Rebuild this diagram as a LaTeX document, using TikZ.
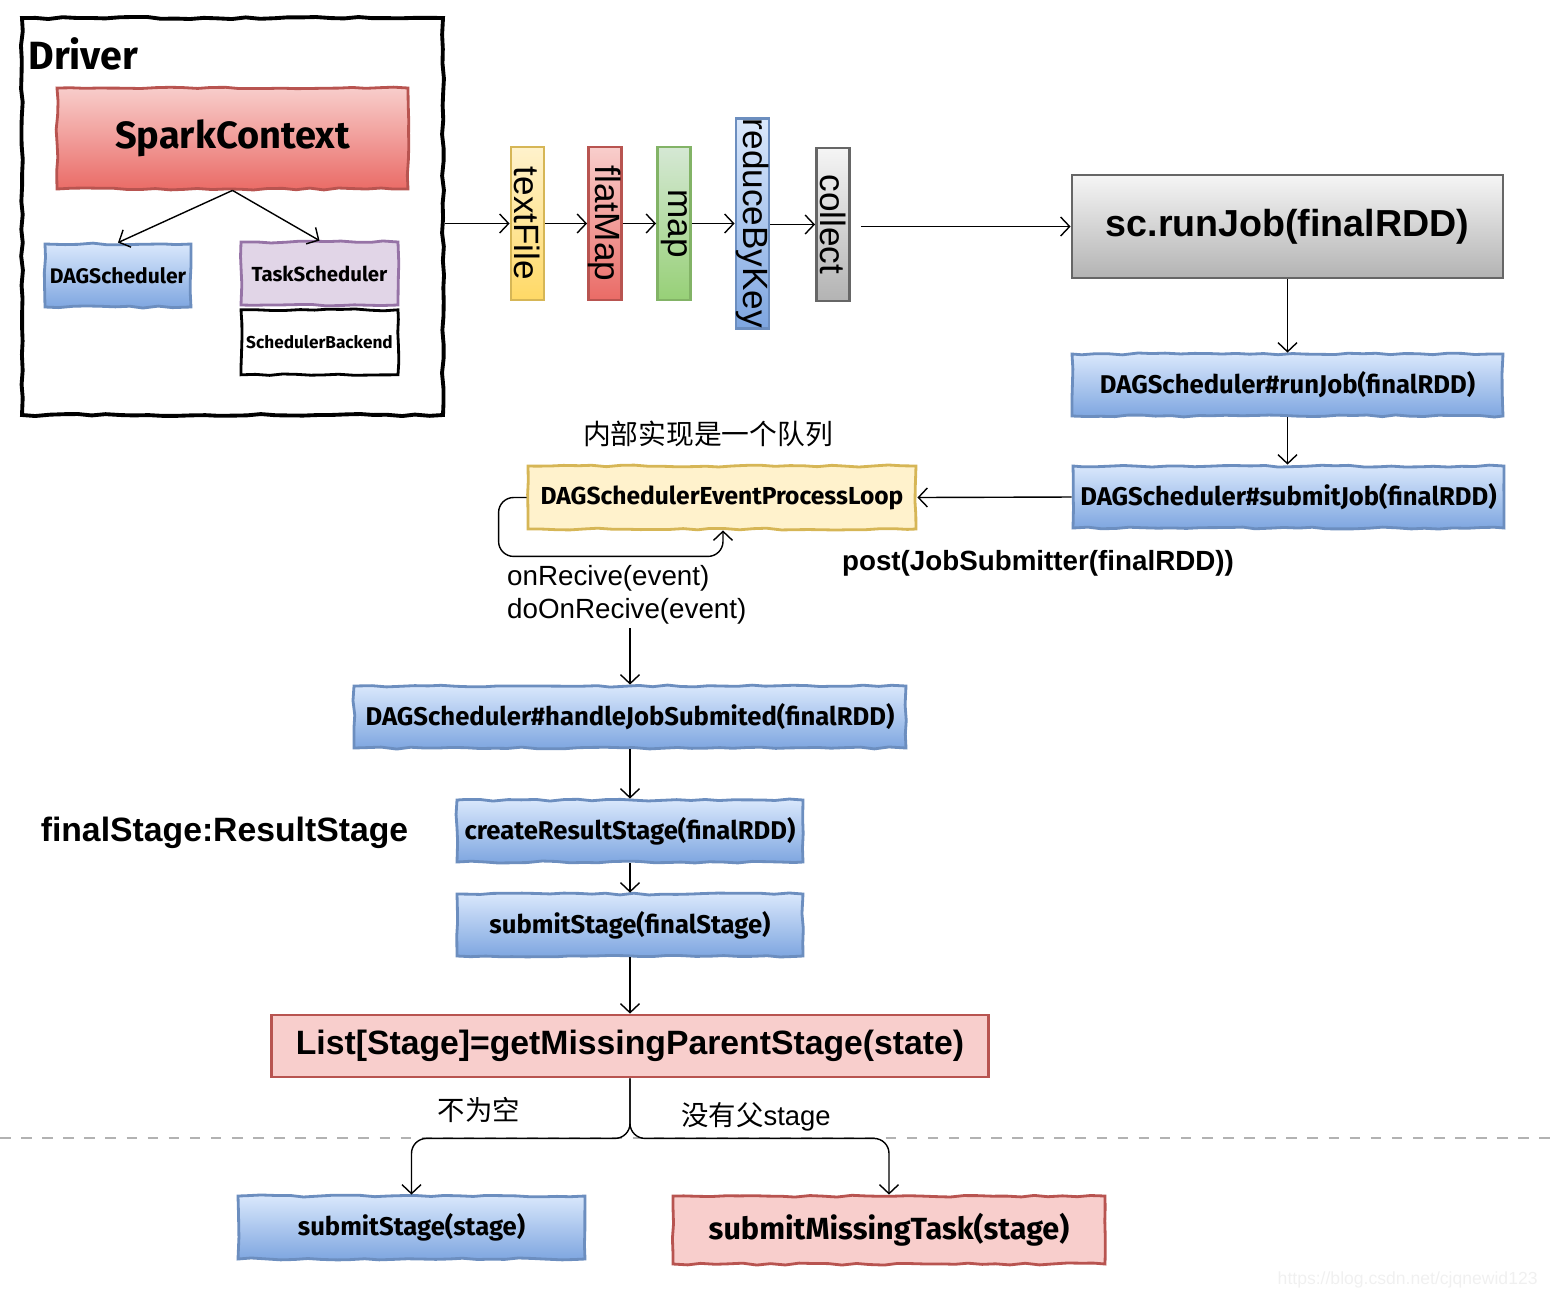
\documentclass[tikz,border=0pt]{standalone}
\usepackage{fontspec}
\setmainfont{Liberation Sans}
\newfontfamily\sketchfont{Fira Sans}
\newfontfamily\cjkfont{Noto Sans CJK SC}
\usepackage{tikz}
\usetikzlibrary{arrows.meta, positioning, calc, decorations.pathmorphing, shadings}
\definecolor{blueTop}{HTML}{DAE8FC}
\definecolor{blueBot}{HTML}{7EA6E0}
\definecolor{blueLine}{HTML}{6C8EBF}
\definecolor{redTop}{HTML}{F8CECC}
\definecolor{redBot}{HTML}{EA6B66}
\definecolor{redLine}{HTML}{B85450}
\definecolor{purpFill}{HTML}{E1D5E7}
\definecolor{purpLine}{HTML}{9673A6}
\definecolor{yelTop}{HTML}{FFF2CC}
\definecolor{yelBot}{HTML}{FFD966}
\definecolor{yelLine}{HTML}{D6B656}
\definecolor{grnTop}{HTML}{D5E8D4}
\definecolor{grnBot}{HTML}{97D077}
\definecolor{grnLine}{HTML}{82B366}
\definecolor{grayTop}{HTML}{F5F5F5}
\definecolor{grayBot}{HTML}{B3B3B3}
\definecolor{grayLine}{HTML}{666666}

\tikzset{
  sketch/.style={draw, line width=0.8pt, inner sep=0pt,
    decorate, decoration={random steps, segment length=4pt, amplitude=0.3pt},
    font=\sketchfont\bfseries\fontsize{7.3}{8}\selectfont},
  bluebox/.style={sketch, draw=blueLine, top color=blueTop, bottom color=blueBot},
  redbox/.style={sketch, draw=redLine, top color=redTop, bottom color=redBot},
  op/.style={draw, line width=0.8pt, inner sep=0pt,
    minimum height=1.53cm, minimum width=0.33cm, font=\fontsize{10}{12}\selectfont},
  flow/.style={-{Straight Barb[length=0.9mm,width=1.9mm]}, thin},
}

\begin{document}
\begin{tikzpicture}
  \useasboundingbox (0,0) rectangle (15.58,-12.98);

  % Driver
  \node[sketch, draw=black, line width=1.1pt, minimum width=4.21cm, minimum height=3.97cm] (driver) at (2.325,-2.165) {};
  \node[anchor=west, font=\sketchfont\bfseries\fontsize{11.2}{13}\selectfont] (drivertxt) at (0.16,-0.54) {Driver};
  \node[redbox, minimum width=3.51cm, minimum height=1.01cm, font=\sketchfont\bfseries\fontsize{10.8}{13}\selectfont] (sparkctx) at (2.325,-1.385) {SparkContext};
  \node[bluebox, minimum width=1.46cm, minimum height=0.63cm, font=\sketchfont\bfseries\fontsize{6}{7}\selectfont] (dagsmall) at (1.18,-2.755) {DAGScheduler};
  \node[sketch, draw=purpLine, fill=purpFill, minimum width=1.57cm, minimum height=0.63cm, font=\sketchfont\bfseries\fontsize{5.8}{7}\selectfont] (tasksch) at (3.195,-2.735) {TaskScheduler};
  \node[sketch, draw=black, fill=white, minimum width=1.57cm, minimum height=0.65cm, font=\sketchfont\bfseries\fontsize{4.9}{6}\selectfont, below=0.02cm of tasksch] (backend) {SchedulerBackend};

  \draw[flow] (sparkctx.south) -- (dagsmall.north);
  \draw[flow] (sparkctx.south) -- (tasksch.north);

  % RDD operators
  \node[op, draw=yelLine, top color=yelTop, bottom color=yelBot] (tf) at (5.275,-2.235) {\rotatebox{-90}{textFile}};
  \node[op, draw=redLine, top color=redTop, bottom color=redBot] (fm) at (6.05,-2.235) {\rotatebox{-90}{flatMap}};
  \node[op, draw=grnLine, top color=grnTop, bottom color=grnBot] (mp) at (6.74,-2.235) {\rotatebox{-90}{map}};
  \node[op, draw=blueLine, top color=blueTop, bottom color=blueBot, minimum height=2.10cm] (rbk) at (7.525,-2.235) {\rotatebox{-90}{reduceByKey}};
  \node[op, draw=grayLine, top color=grayTop, bottom color=grayBot] (col) at (8.33,-2.245) {\rotatebox{-90}{collect}};

  \draw[flow] (driver.east |- tf) -- (tf.west);
  \draw[flow] (tf.east) -- (fm.west);
  \draw[flow] (fm.east) -- (mp.west);
  \draw[flow] (mp.east) -- (rbk.west |- mp.east);
  \draw[flow] (rbk.east |- col.west) -- (col.west);

  % job submission
  \node[draw=grayLine, line width=0.8pt, top color=grayTop, bottom color=grayBot, minimum width=4.31cm, minimum height=1.03cm, font=\bfseries\fontsize{10.7}{12}\selectfont] (runjob) at (12.875,-2.265) {sc.runJob(finalRDD)};
  \draw[flow] ([xshift=0.1cm]col.east |- runjob.west) -- (runjob.west);

  \node[bluebox, minimum width=4.31cm, minimum height=0.62cm] (dagrun) at (12.875,-3.85) {DAGScheduler\#runJob(finalRDD)};
  \node[bluebox, minimum width=4.31cm, minimum height=0.62cm] (dagsubmit) at (12.885,-4.97) {DAGScheduler\#submitJob(finalRDD)};
  \draw[flow] (runjob) -- (runjob |- dagrun.north);
  \draw[flow] (dagrun.south) -- (dagrun.south |- dagsubmit.north);

  \node[sketch, draw=yelLine, fill=yelTop, minimum width=3.88cm, minimum height=0.63cm, font=\sketchfont\bfseries\fontsize{7}{8}\selectfont] (loop) at (7.22,-4.975) {DAGSchedulerEventProcessLoop};
  \node[font=\cjkfont\fontsize{7.9}{9}\selectfont] (queue) at (7.08,-4.34) {内部实现是一个队列};
  \draw[flow] (dagsubmit.west) -- (loop.east);
  \node[font=\bfseries\fontsize{7.9}{9}\selectfont] (post) at (10.38,-5.63) {post(JobSubmitter(finalRDD))};

  \draw[flow, rounded corners=0.15cm] (loop.west) -- ++(-0.28,0) |- ([xshift=0.01cm, yshift=-0.26cm]loop.south) -- ([xshift=0.01cm]loop.south);
  \node[anchor=west, align=left, font=\fontsize{7.9}{9.4}\selectfont, inner sep=1pt] (recv) at (5.03,-5.945) {onRecive(event)\\doOnRecive(event)};

  % handling
  \node[bluebox, minimum width=5.52cm, minimum height=0.62cm] (handle) at (6.30,-7.17) {DAGScheduler\#handleJobSubmited(finalRDD)};
  \draw[flow] (recv.south -| handle.north) -- (handle.north);

  \node[bluebox, minimum width=3.46cm, minimum height=0.62cm] (create) at (6.30,-8.31) {createResultStage(finalRDD)};
  \node[font=\bfseries\fontsize{9.6}{11}\selectfont] (resstage) at (2.245,-8.33) {finalStage:ResultStage};
  \node[bluebox, minimum width=3.46cm, minimum height=0.62cm] (subfinal) at (6.30,-9.25) {submitStage(finalStage)};
  \draw[flow] (handle) -- (create);
  \draw[flow] (create) -- (subfinal);

  \node[draw=redLine, line width=0.8pt, fill=redTop, minimum width=7.17cm, minimum height=0.62cm, font=\bfseries\fontsize{9.6}{11}\selectfont] (missing) at (6.30,-10.46) {List[Stage]=getMissingParentStage(state)};
  \draw[flow] (subfinal) -- (missing);

  % branches
  \draw[dashed, gray!60, thin] (0,-11.38) -- (15.58,-11.38);
  \node[bluebox, minimum width=3.47cm, minimum height=0.63cm] (substage) at (4.115,-12.275) {submitStage(stage)};
  \node[sketch, draw=redLine, fill=redTop, minimum width=4.32cm, minimum height=0.68cm, font=\sketchfont\bfseries\fontsize{8.7}{10}\selectfont] (submissing) at (8.89,-12.30) {submitMissingTask(stage)};
  \draw[flow, rounded corners=0.15cm] (missing.south) -- ++(0,-0.60) -| (substage.north);
  \draw[flow, rounded corners=0.15cm] (missing.south) -- ++(0,-0.60) -| (submissing.north);
  \node[font=\cjkfont\fontsize{7.8}{9}\selectfont] (notempty) at (4.79,-11.10) {不为空};
  \node[font=\fontsize{7.8}{9}\selectfont] (noparent) at (7.56,-11.17) {{\cjkfont 没有父}stage};

  \node[anchor=east, text=gray!12, font=\fontsize{5}{6}\selectfont] (mark) at (15.5,-12.8) {https://blog.csdn.net/cjqnewid123};
\end{tikzpicture}
\end{document}
